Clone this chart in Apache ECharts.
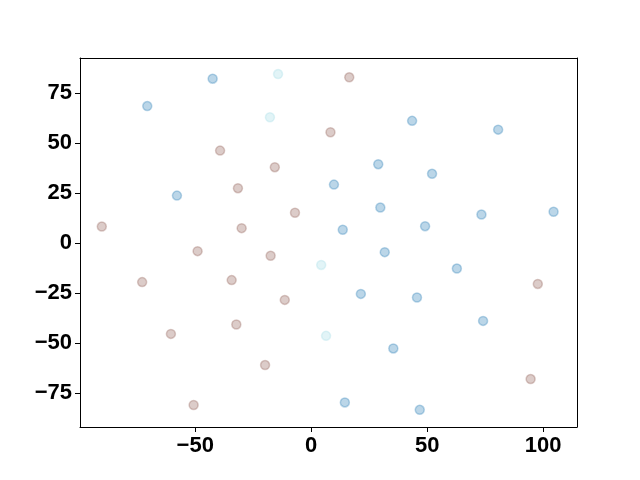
<!DOCTYPE html>
<html>
<head>
<meta charset="utf-8">
<script src="https://cdn.jsdelivr.net/npm/echarts@6/dist/echarts.min.js"></script>
<style>
  html, body { margin: 0; padding: 0; background: #fff; }
  #chart { width: 640px; height: 480px; }
</style>
</head>
<body>
<div id="chart"></div>
<script>
// point groups as [x, y]
const bluePoints = [
  [-42.5, 82.3], [-70.7, 68.6], [-57.9, 23.8], [43.5, 61.2], [80.6, 56.8],
  [28.9, 39.5], [52.1, 34.7], [9.8, 29.3], [29.8, 17.8], [73.4, 14.3],
  [104.5, 15.7], [13.6, 6.7], [49.1, 8.5], [31.7, -4.5], [62.8, -12.7],
  [21.4, -25.4], [45.6, -27.2], [74.1, -38.9], [35.4, -52.7], [14.5, -79.7],
  [46.8, -83.4]
];
const cyanPoints = [
  [-14.3, 84.6], [-17.8, 63.0], [4.3, -10.9], [6.4, -46.4]
];
const brownPoints = [
  [8.3, 55.5], [-39.3, 46.3], [-15.7, 38.0], [-31.6, 27.5], [-7.0, 15.2],
  [-90.3, 8.3], [-30.0, 7.5], [16.4, 83.0], [-49.0, -4.0], [-17.5, -6.3],
  [-72.9, -19.5], [-34.3, -18.5], [-11.4, -28.4], [-32.3, -40.7], [-60.5, -45.4],
  [-19.9, -61.0], [-50.7, -81.0], [97.7, -20.4], [94.6, -68.0]
];
const xTicks = [-50, 0, 50, 100];
const yTicks = [-75, -50, -25, 0, 25, 50, 75];

const xRange = [-99.7, 114.6];
const yRange = [-92.0, 92.65];

const chart = echarts.init(document.getElementById('chart'));

const fmt = v => (v < 0 ? '\u2212' + Math.abs(v) : String(v));
const labelStyle = {
  color: '#000',
  fontSize: 22,
  fontWeight: 'bold',
  fontFamily: 'Liberation Sans',
  formatter: fmt
};
const blackLine = { show: true, onZero: false, lineStyle: { color: '#000', width: 1 } };

function scatter(data, color) {
  return {
    type: 'scatter',
    data: data,
    symbolSize: 9,
    itemStyle: {
      color: color,
      borderColor: color,
      borderWidth: 1.5,
      opacity: 0.3
    },
    emphasis: { disabled: true }
  };
}

// plain axis that only draws a frame edge
function frameAxis(position, range) {
  return {
    type: 'value',
    position: position,
    min: range[0],
    max: range[1],
    axisLine: blackLine,
    axisTick: { show: false },
    axisLabel: { show: false },
    splitLine: { show: false }
  };
}

const option = {
  animation: false,
  backgroundColor: '#fff',
  grid: { left: 80, right: 63, top: 58, bottom: 53 },
  xAxis: [
    {
      type: 'value',
      position: 'bottom',
      min: xRange[0],
      max: xRange[1],
      splitLine: { show: false },
      axisLine: blackLine,
      axisTick: { show: true, customValues: xTicks, length: 5, lineStyle: { color: '#000' } },
      axisLabel: Object.assign({ customValues: xTicks, margin: 8 }, labelStyle)
    },
    frameAxis('top', xRange)
  ],
  yAxis: [
    {
      type: 'value',
      position: 'left',
      min: yRange[0],
      max: yRange[1],
      splitLine: { show: false },
      axisLine: blackLine,
      axisTick: { show: true, customValues: yTicks, length: 5, lineStyle: { color: '#000' } },
      axisLabel: Object.assign({ customValues: yTicks, margin: 8 }, labelStyle)
    },
    frameAxis('right', yRange)
  ],
  series: [
    scatter(bluePoints, '#1f77b4'),
    scatter(cyanPoints, '#9edae5'),
    scatter(brownPoints, '#8c564b')
  ]
};

chart.setOption(option);
</script>
</body>
</html>
